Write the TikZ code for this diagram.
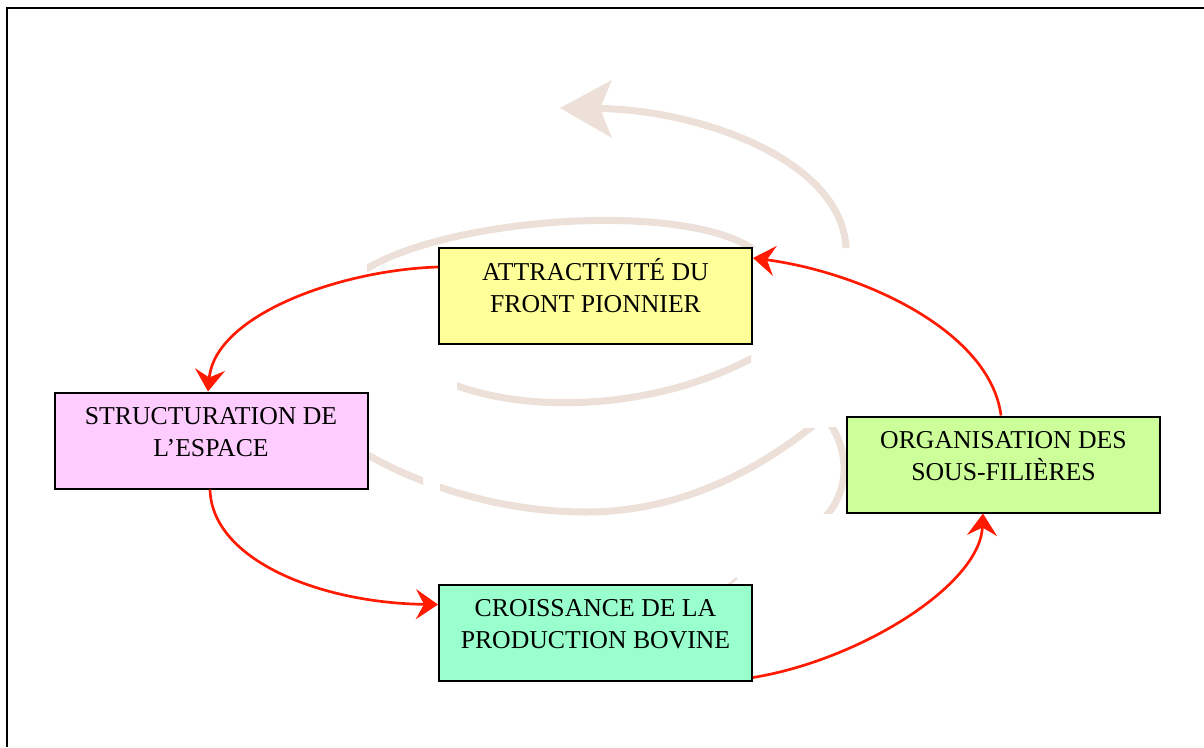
\documentclass[tikz,border=0pt]{standalone}
\usepackage{fontspec}
\setmainfont{Liberation Serif}
\usetikzlibrary{arrows.meta,calc}
\definecolor{spiral}{HTML}{ECE0D8}
\definecolor{redarrow}{HTML}{FF1A00}
\definecolor{yellowbox}{HTML}{FFFF99}
\definecolor{pinkbox}{HTML}{FFCCFF}
\definecolor{mintbox}{HTML}{99FFCC}
\definecolor{limebox}{HTML}{CCFF99}
\newcommand{\boxlines}[2]{\rule{0pt}{24pt}#1\\\rule[-24pt]{0pt}{24pt}#2}
\begin{document}
\begin{tikzpicture}[x=0.75pt,y=-0.75pt,
  boxstyle/.style={draw=black, line width=1.5pt, inner sep=0pt,
    minimum width=234.75pt, minimum height=72pt, align=center,
    font=\fontsize{19.3pt}{24pt}\selectfont},
  spiralline/.style={draw=spiral, line width=5.25pt},
  flow/.style={draw=redarrow, line width=2pt,
    -{Stealth[length=16.5pt,width=22.5pt,inset=6pt]}}]
\useasboundingbox (0,0) rectangle (1204,747);
\fill[white] (0,0) rectangle (1204,747);
% frame
\draw[line width=1.5pt] (7,747) -- (7,8) -- (1204,8);
% background spiral
\fill[spiral] (560,108) -- (612,80) -- (600,108.5) -- (612,138) -- cycle;
\draw[spiralline] (600,108.5) .. controls (700,110) and (842,160) .. (846,248);
\begin{scope}
  \clip (367,0) rectangle (1204,747);
  \draw[spiralline] (360,273) .. controls (440,218) and (680,200) .. (753,249);
\end{scope}
\begin{scope}
  \clip (457,0) rectangle (751,747);
  \draw[spiralline] (450,383) .. controls (520,412) and (650,414) .. (758,355);
\end{scope}
\begin{scope}
  \clip (0,0) rectangle (423,747);
  \draw[spiralline] (368,455) .. controls (420,485) and (500,512) .. (586,512);
\end{scope}
\begin{scope}
  \clip (440,428) rectangle (1204,747);
  \draw[spiralline] (368,455) .. controls (420,485) and (500,512) .. (586,512)
     .. controls (680,512) and (760,470) .. (820,420);
\end{scope}
\begin{scope}
  \clip (0,427) rectangle (1204,513);
  \draw[spiralline] (826,418) .. controls (852,452) and (850,495) .. (820,522);
\end{scope}
\draw[spiral, line width=2pt] (726,587) -- (737,578);
% boxes
\node[boxstyle, fill=yellowbox] (a) at (595.5,296) {\boxlines{ATTRACTIVITÉ DU}{FRONT PIONNIER}};
\node[boxstyle, fill=pinkbox] (s) at (211,440.5) {\boxlines{STRUCTURATION DE}{L’ESPACE}};
\node[boxstyle, fill=mintbox] (c) at (595.5,632.5) {\boxlines{CROISSANCE DE LA}{PRODUCTION BOVINE}};
\node[boxstyle, fill=limebox] (o) at (1003.5,464.5) {\boxlines{ORGANISATION DES}{SOUS-FILIÈRES}};
% red arrows
\draw[flow] ($(a.north west)+(0,20)$) .. controls (340,270) and (215,315) .. ($(s.north)+(-3,0)$);
\draw[flow] ($(s.south)+(-1,0)$) .. controls (212,560) and (320,603) .. ($(c.north west)+(0,21)$);
\draw[flow] ($(c.south east)+(0,-4)$) .. controls (860,660) and (980,585) .. ($(o.south)+(-20.5,0)$);
\draw[flow] ($(o.north)+(-2.5,0)$) .. controls (990,330) and (860,272) .. ($(a.north east)+(0,11)$);
\end{tikzpicture}
\end{document}
